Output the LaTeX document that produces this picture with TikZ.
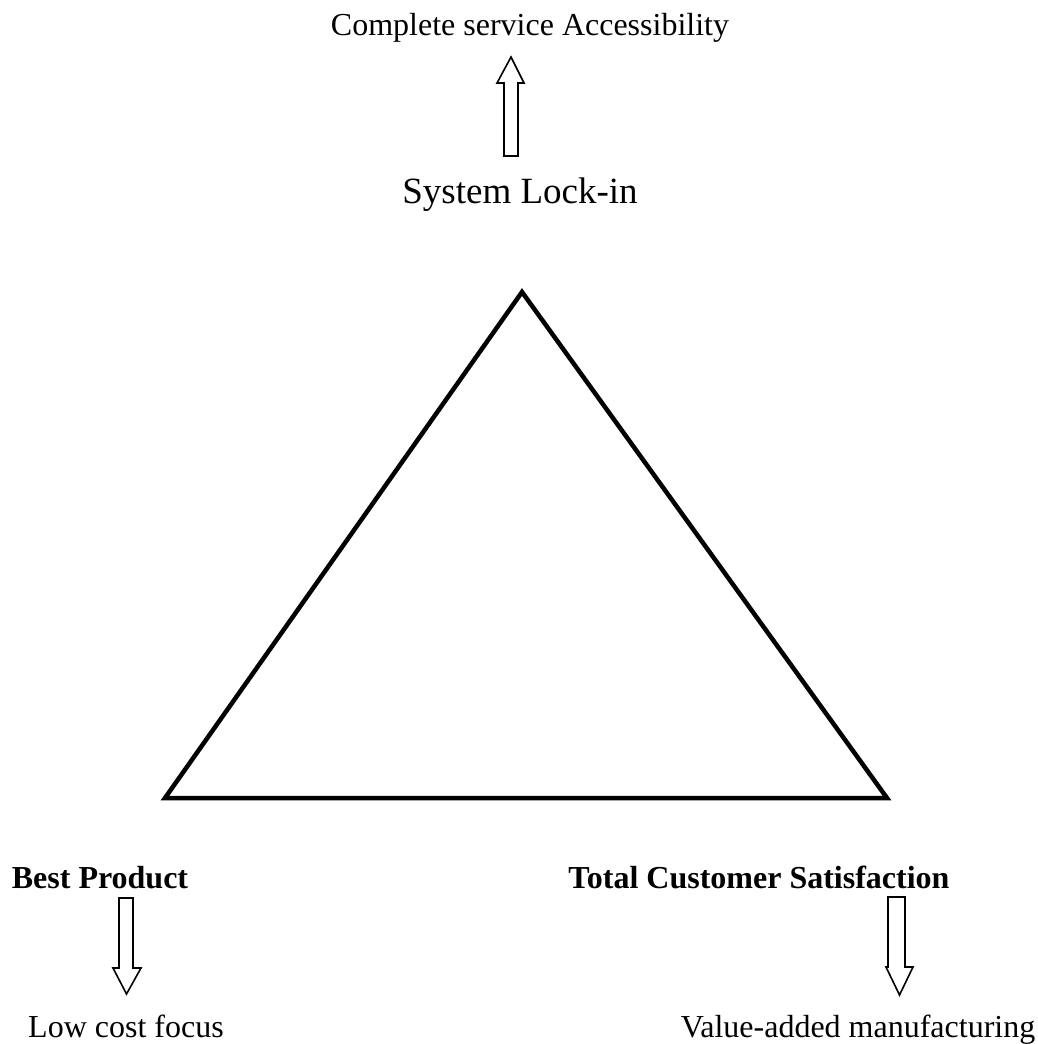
\documentclass[tikz,border=0pt]{standalone}
\usepackage{fontspec}
\setmainfont{Liberation Serif}
\begin{document}
\begin{tikzpicture}[x=1pt,y=-1pt,
  label/.style={inner sep=0pt, anchor=base, font=\fontsize{32}{36}\selectfont},
  bold label/.style={label, font=\fontsize{32}{36}\selectfont\bfseries},
  blockarrow/.style={draw=black, line width=1.6pt, fill=white, line join=miter}]
\useasboundingbox (0,0) rectangle (1037,1044);

% triangle
\coordinate (apex) at (522,292);
\coordinate (bl) at (165,798);
\coordinate (br) at (887,798);
\draw[line width=4.5pt, line join=miter] (apex) -- (bl) -- (br) -- cycle;

% texts
\node[label] (top) at (530,35) {Complete service Accessibility};
\node[label, font=\fontsize{37}{40}\selectfont] (lock) at (520,203) {System Lock-in};
\node[bold label] (best) at (100,888) {Best Product};
\node[bold label] (total) at (759,888) {Total Customer Satisfaction};
\node[label] (low) at (126,1037) {Low cost focus};
\node[label] (value) at (858,1037) {Value-added manufacturing};

% block arrow: System Lock-in -> Complete service Accessibility
\draw[blockarrow] (504,156) -- (504,83) -- (497,83) -- (511,57) -- (524,83) -- (518,83) -- (518,156) -- cycle;
% block arrow: Best Product -> Low cost focus
\draw[blockarrow] (119,898) -- (133,898) -- (133,968) -- (141,968) -- (126.5,994) -- (113,968) -- (119,968) -- cycle;
% block arrow: Total Customer Satisfaction -> Value-added manufacturing
\draw[blockarrow] (888,897) -- (905,897) -- (905,967) -- (913,967) -- (899.5,995) -- (886,967) -- (888,967) -- cycle;
\end{tikzpicture}
\end{document}
